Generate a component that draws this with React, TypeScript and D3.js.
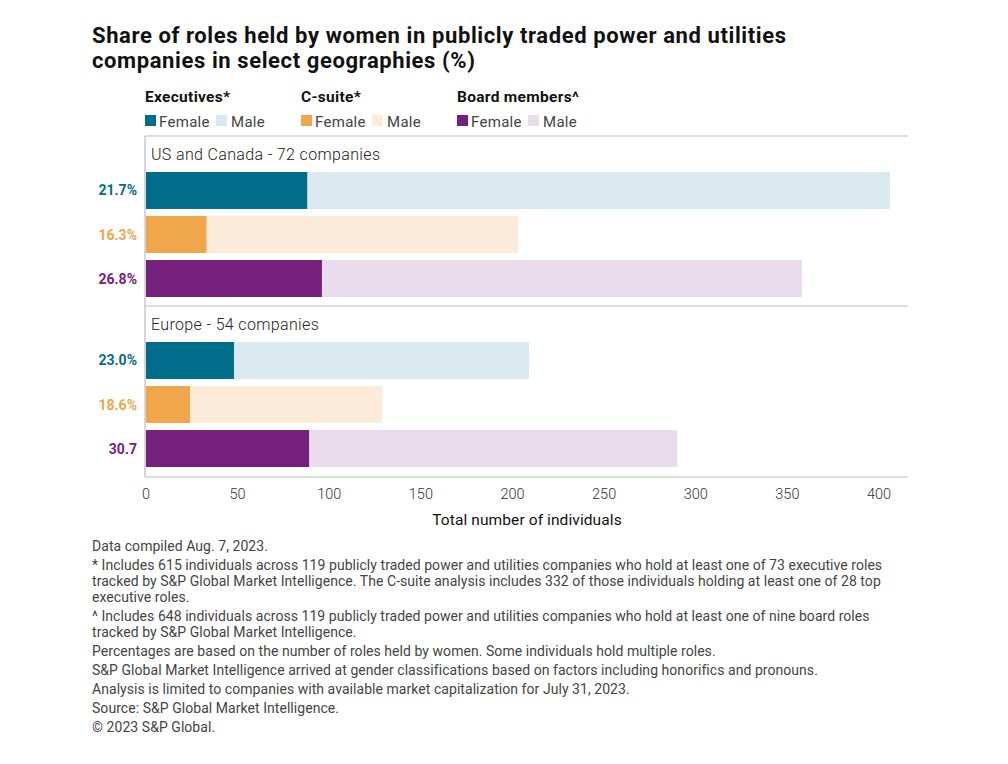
import * as d3 from 'd3'

const regions = ['US and Canada - 72 companies', 'Europe - 54 companies']
const roles = ['Executives*', 'C-suite*', 'Board members^']
const femaleCounts = [
  [88, 33, 96],
  [48, 24, 89],
]
const maleCounts = [
  [318, 170, 262],
  [161, 105, 201],
]
const pctLabels = [
  ['21.7%', '16.3%', '26.8%'],
  ['23.0%', '18.6%', '30.7'],
]
const xTicks = [0, 50, 100, 150, 200, 250, 300, 350, 400]

const femaleColors = ['#006e8a', '#f0a64a', '#76207d']
const maleColors = ['#d9e9ef', '#fcebd9', '#e9dded']

const footnotes = [
  'Data compiled Aug. 7, 2023.',
  '* Includes 615 individuals across 119 publicly traded power and utilities companies who hold at least one of 73 executive roles',
  'tracked by S&P Global Market Intelligence. The C-suite analysis includes 332 of those individuals holding at least one of 28 top',
  'executive roles.',
  '^ Includes 648 individuals across 119 publicly traded power and utilities companies who hold at least one of nine board roles',
  'tracked by S&P Global Market Intelligence.',
  'Percentages are based on the number of roles held by women. Some individuals hold multiple roles.',
  'S&P Global Market Intelligence arrived at gender classifications based on factors including honorifics and pronouns.',
  'Analysis is limited to companies with available market capitalization for July 31, 2023.',
  'Source: S&P Global Market Intelligence.',
  '© 2023 S&P Global.',
]
// paragraph gaps are a bit larger than line gaps
const footY = [551, 570, 586, 602, 621, 637, 656, 675, 694, 713, 732]

const W = 1008
const H = 764
const font = 'Roboto, "Liberation Sans", sans-serif'

export default function App() {
  const x = d3.scaleLinear().domain([0, 400]).range([146, 879])
  const frameL = 145
  const frameR = 908
  const panels = [
    { top: 136, bars: [172, 297] },
    { top: 306, bars: [342, 467] },
  ]
  const bottom = 477
  const legendX = [145, 301, 457]

  return (
    <div style={{ position: 'absolute', left: 0, top: 0 }}>
      <svg width={W} height={H} style={{ display: 'block', background: '#fff' }} fontFamily={font}>
        <text x={92} y={43} fontSize={22} fontWeight={700} fill="#111" letterSpacing={0.6}>
          Share of roles held by women in publicly traded power and utilities
        </text>
        <text x={92} y={68} fontSize={22} fontWeight={700} fill="#111" letterSpacing={0.6}>
          companies in select geographies (%)
        </text>

        {/* legend */}
        {roles.map((r, i) => (
          <g key={r} transform={`translate(${legendX[i]},0)`}>
            <text x={0} y={102} fontSize={15.5} fontWeight={700} fill="#111" letterSpacing={0.3}>{r}</text>
            <rect x={0} y={115} width={11} height={11} fill={femaleColors[i]} />
            <text x={14} y={126.5} fontSize={15} fill="#444" letterSpacing={0.3}>Female</text>
            <rect x={71} y={115} width={11} height={11} fill={maleColors[i]} />
            <text x={86} y={126.5} fontSize={15} fill="#444" letterSpacing={0.3}>Male</text>
          </g>
        ))}

        {/* frame */}
        <line x1={frameL} x2={frameR} y1={panels[0].top} y2={panels[0].top} stroke="#bbb" strokeWidth={1.2} />
        <line x1={frameL} x2={frameR} y1={panels[1].top} y2={panels[1].top} stroke="#bbb" strokeWidth={1.2} />
        <line x1={frameL} x2={frameR} y1={bottom} y2={bottom} stroke="#bbb" strokeWidth={1.2} />
        <line x1={frameL} x2={frameL} y1={panels[0].top} y2={bottom} stroke="#bbb" strokeWidth={1.2} />

        {panels.map((p, gi) => {
          const y = d3.scaleBand().domain(roles).range(p.bars).paddingInner(0.16).paddingOuter(0)
          return (
            <g key={regions[gi]}>
              <text x={frameL + 6} y={p.top + 24} fontSize={16} fontWeight={300} fill="#222" letterSpacing={0.35}>{regions[gi]}</text>
              {roles.map((r, i) => {
                const f = femaleCounts[gi][i]
                const m = maleCounts[gi][i]
                const y0 = y(r) as number
                return (
                  <g key={r}>
                    <rect x={x(f)} y={y0} width={x(f + m) - x(f)} height={y.bandwidth()} fill={maleColors[i]} />
                    <rect x={x(0)} y={y0} width={x(f) - x(0)} height={y.bandwidth()} fill={femaleColors[i]} />
                    <text x={137} y={y0 + y.bandwidth() / 2 + 5} textAnchor="end" fontSize={14} fontWeight={700} fill={femaleColors[i]}>
                      {pctLabels[gi][i]}
                    </text>
                  </g>
                )
              })}
            </g>
          )
        })}

        {/* x axis */}
        {xTicks.map((t) => (
          <text key={t} x={x(t)} y={499} textAnchor="middle" fontSize={14.5} fontWeight={300} fill="#333">{t}</text>
        ))}
        <text x={(x(0) + frameR) / 2} y={525} textAnchor="middle" fontSize={15.5} fill="#111" letterSpacing={0.1}>Total number of individuals</text>

        {footnotes.map((t, i) => (
          <text key={i} x={92} y={footY[i]} fontSize={14} fill="#444" letterSpacing={0.05}>{t}</text>
        ))}
      </svg>
    </div>
  )
}
